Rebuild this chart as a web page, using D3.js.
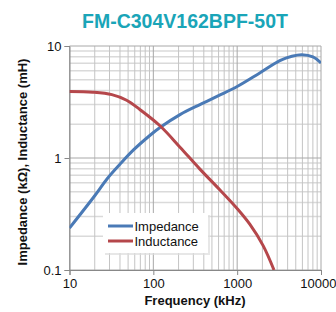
<!DOCTYPE html>
<html><head><meta charset="utf-8">
<script src="https://cdn.jsdelivr.net/npm/d3@7"></script>
<style>body{margin:0;background:#fff}svg{display:block;font-family:"Liberation Sans",Arial,sans-serif}</style>
</head><body><svg id="c" width="336" height="312"></svg>
<script>
const title = "FM-C304V162BPF-50T";
const xTicks = [10, 100, 1000, 10000];
const yTicks = [0.1, 1, 10];
const yTickLabels = ["0.1", "1", "10"];
const impFreq = [10, 20, 28, 40, 58, 90, 120, 208, 360, 600, 1000, 1860, 3230, 4500, 5900, 8000, 10000];
const impVal  = [0.237, 0.46, 0.65, 0.88, 1.18, 1.58, 1.87, 2.44, 3.0, 3.6, 4.35, 5.75, 7.4, 8.1, 8.36, 8.0, 7.05];
const indFreq = [10, 19, 32, 48, 69.5, 120, 208, 357, 620, 1010, 1420, 2040, 2750];
const indVal  = [3.93, 3.87, 3.68, 3.28, 2.7, 1.94, 1.25, 0.8, 0.52, 0.35, 0.255, 0.165, 0.1];
const seriesNames = ["Impedance", "Inductance"];
const colors = ["#4a7ab6", "#b5474b"];

const svg = d3.select("#c");
const L = 69.5, R = 321, T = 46, B = 270;
const x = d3.scaleLog().domain([10, 10000]).range([L, R]);
const y = d3.scaleLog().domain([0.1, 10]).range([B, T]);

svg.append("text").attr("x", 185).attr("y", 28).attr("text-anchor", "middle")
  .attr("font-size", 19.5).attr("font-weight", "bold").attr("fill", "#1aa5b8").text(title);

// grid
const minorX = [], minorY = [];
for (let d = 10; d < 10000; d *= 10) for (let k = 2; k <= 9; k++) minorX.push(d * k);
for (let d = 0.1; d < 10; d *= 10) for (let k = 2; k <= 9; k++) minorY.push(+(d * k).toPrecision(3));
const g = svg.append("g");
g.selectAll(".hy").data(minorY).enter().append("line")
  .attr("x1", L).attr("x2", R).attr("y1", d => y(d)).attr("y2", d => y(d))
  .attr("stroke", "#dadada").attr("stroke-width", 1.5);
g.selectAll(".vx").data(minorX).enter().append("line")
  .attr("y1", T).attr("y2", B).attr("x1", d => x(d)).attr("x2", d => x(d))
  .attr("stroke", "#c4c4c4").attr("stroke-width", 1);
g.selectAll(".my").data(yTicks).enter().append("line")
  .attr("x1", L).attr("x2", R).attr("y1", d => y(d)).attr("y2", d => y(d))
  .attr("stroke", "#a8a8a8").attr("stroke-width", 1);
g.selectAll(".mx").data(xTicks).enter().append("line")
  .attr("y1", T).attr("y2", B).attr("x1", d => x(d)).attr("x2", d => x(d))
  .attr("stroke", "#a8a8a8").attr("stroke-width", 1);

// axes
const xa = svg.append("g").attr("transform", `translate(0,${B})`)
  .call(d3.axisBottom(x).tickValues(xTicks).tickFormat(d3.format("d")).tickSize(5).tickPadding(4));
const ya = svg.append("g").attr("transform", `translate(${L},0)`)
  .call(d3.axisLeft(y).tickValues(yTicks).tickFormat((d, i) => yTickLabels[i]).tickSize(5).tickPadding(3));
[xa, ya].forEach(a => {
  a.select(".domain").attr("stroke", "#888");
  a.selectAll(".tick line").attr("stroke", "#888");
  a.selectAll("text").attr("font-size", 13).attr("fill", "#111").attr("font-family", "Liberation Sans, Arial, sans-serif");
});
ya.selectAll("text").attr("dy", "0.36em");
xa.selectAll(".tick text").filter(d => d === 10000).attr("text-anchor", "end").attr("dx", 15);

// clip
svg.append("clipPath").attr("id", "clip").append("rect").attr("x", L).attr("y", T).attr("width", R - L).attr("height", B - T);

const line = d3.line().curve(d3.curveCatmullRom.alpha(0.5));
const impPts = impFreq.map((f, i) => [x(f), y(impVal[i])]);
const indPts = indFreq.map((f, i) => [x(f), y(indVal[i])]);
const plot = svg.append("g").attr("clip-path", "url(#clip)");
plot.append("path").attr("d", line(impPts)).attr("fill", "none").attr("stroke", colors[0]).attr("stroke-width", 3);
plot.append("path").attr("d", line(indPts)).attr("fill", "none").attr("stroke", colors[1]).attr("stroke-width", 3);

// labels
svg.append("text").attr("x", 195).attr("y", 305).attr("text-anchor", "middle")
  .attr("font-size", 13).attr("font-weight", "bold").attr("fill", "#111").text("Frequency (kHz)");
svg.append("text").attr("transform", "translate(27,162) rotate(-90)").attr("text-anchor", "middle")
  .attr("font-size", 13).attr("font-weight", "bold").attr("fill", "#111").text("Impedance (kΩ), Inductance (mH)");

// legend
const lg = svg.append("g");
lg.append("rect").attr("x", 105).attr("y", 215).attr("width", 105).attr("height", 40).attr("fill", "#ddd").attr("opacity", 0.7);
lg.append("rect").attr("x", 103).attr("y", 213).attr("width", 105).attr("height", 40).attr("fill", "#fff");
seriesNames.forEach((n, i) => {
  const yy = 226 + i * 15;
  lg.append("line").attr("x1", 108).attr("x2", 133).attr("y1", yy).attr("y2", yy)
    .attr("stroke", colors[i]).attr("stroke-width", 3);
  lg.append("text").attr("x", 134.5).attr("y", yy + 4.5).attr("font-size", 13).attr("fill", "#111").text(n);
});
</script></body></html>
